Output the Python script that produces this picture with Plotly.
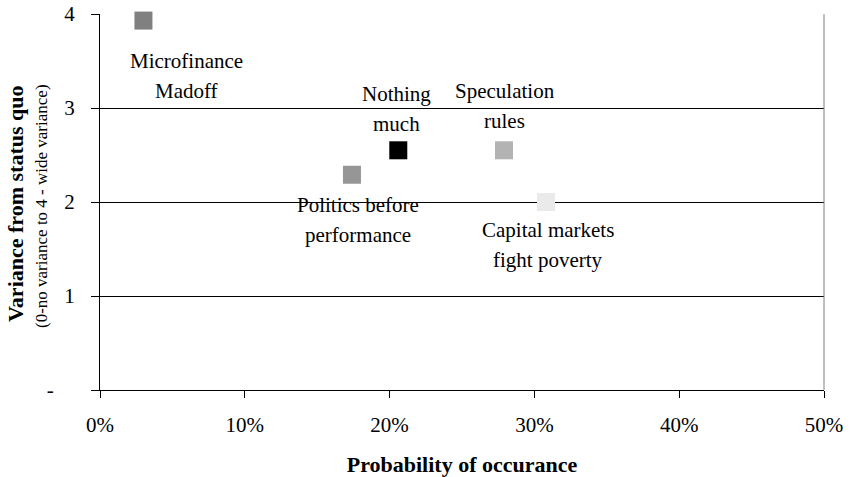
import plotly.graph_objects as go

# Scenario data: probability of occurrence vs. variance from status quo
scenarios = ["Microfinance Madoff", "Politics before performance", "Nothing much",
             "Speculation rules", "Capital markets fight poverty"]
probability = [0.030, 0.174, 0.206, 0.279, 0.308]
variance = [3.93, 2.29, 2.55, 2.55, 2.00]
label_lines = [["Microfinance", "Madoff"],
               ["Politics before", "performance"],
               ["Nothing", "much"],
               ["Speculation", "rules"],
               ["Capital markets", "fight poverty"]]
marker_colors = ["#808080", "#969696", "#000000", "#b3b3b3", "#eaeaea"]

y_tickvals = [0, 1, 2, 3, 4]
y_ticktext = ["-\u00a0\u00a0\u00a0\u00a0", "1", "2", "3", "4"]

# pixel offsets of each label line relative to its marker (dx, dy of line 1, dy of line 2)
label_offsets = [(43, -40, -70), (6, -30, -60), (-2, 56, 26), (1, 59, 29), (2, -28, -58)]

FONT = "Liberation Serif"

fig = go.Figure()
fig.add_trace(go.Scatter(
    x=probability, y=variance, mode="markers", text=scenarios,
    marker=dict(symbol="square", size=18, color=marker_colors, line=dict(width=0)),
    hoverinfo="text", showlegend=False, cliponaxis=False,
))

annotations = []
for x, y, lines, (dx, dy1, dy2) in zip(probability, variance, label_lines, label_offsets):
    for line, dy in zip(lines, (dy1, dy2)):
        annotations.append(dict(
            x=x, y=y, xref="x", yref="y", text=line, showarrow=False,
            xshift=dx, yshift=dy, xanchor="center", yanchor="middle",
            font=dict(family=FONT, size=21, color="#000000"),
        ))

# rotated y-axis titles
annotations.append(dict(
    x=0, y=0.5, xref="paper", yref="paper", xshift=-85, yshift=-2,
    text="<b>Variance from status quo</b>", textangle=-90, showarrow=False,
    xanchor="center", yanchor="middle",
    font=dict(family=FONT, size=22, color="#000000"),
))
annotations.append(dict(
    x=0, y=0.5, xref="paper", yref="paper", xshift=-59, yshift=-4,
    text="(0-no variance to 4 - wide variance)", textangle=-90, showarrow=False,
    xanchor="center", yanchor="middle",
    font=dict(family=FONT, size=17, color="#000000"),
))

fig.update_layout(
    width=852, height=477,
    margin=dict(l=100, r=28, t=14, b=87),
    paper_bgcolor="white", plot_bgcolor="white",
    font=dict(family=FONT, size=21, color="#000000"),
    annotations=annotations,
    shapes=[dict(type="line", xref="paper", yref="paper", x0=1, x1=1, y0=0, y1=1,
                 line=dict(color="#808080", width=1))],
    xaxis=dict(
        range=[0, 0.5], dtick=0.1, tickformat=".0%", automargin=False,
        showgrid=False, zeroline=False, showline=True, linecolor="#000000", linewidth=1,
        ticks="outside", ticklen=7, tickcolor="#000000", ticklabelstandoff=9,
        title=dict(text="<b>Probability of occurance</b>", standoff=25,
                   font=dict(family=FONT, size=22)),
        fixedrange=True,
    ),
    yaxis=dict(
        range=[0, 4], tickvals=y_tickvals, ticktext=y_ticktext, automargin=False,
        showgrid=True, gridcolor="#000000", gridwidth=1, zeroline=False,
        showline=True, linecolor="#000000", linewidth=1,
        ticks="outside", ticklen=8, tickcolor="#000000", ticklabelstandoff=12,
        fixedrange=True,
    ),
)

fig.write_html("out.html")
